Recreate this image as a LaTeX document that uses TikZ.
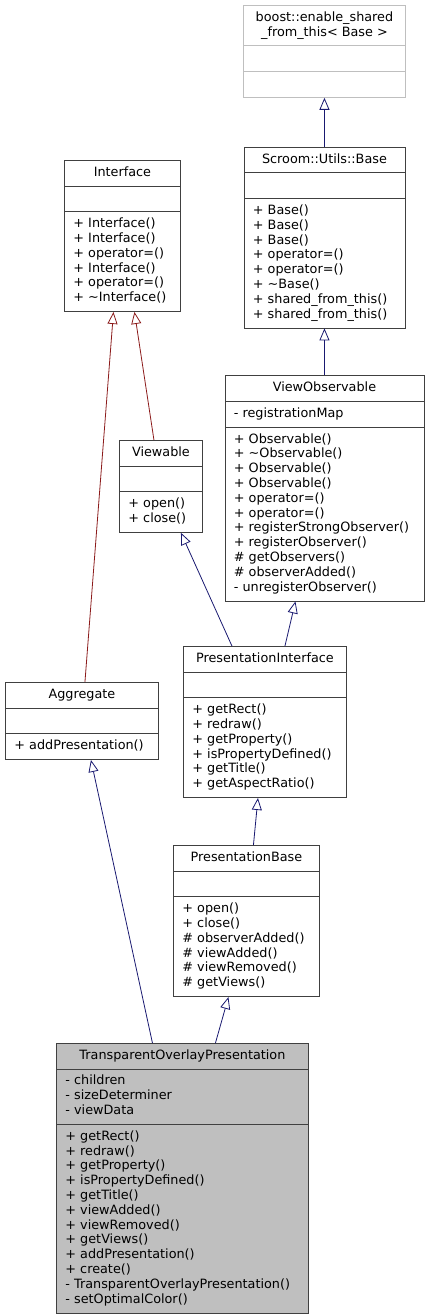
\documentclass[tikz,border=0pt]{standalone}
\usepackage{fontspec}
\setmainfont{DejaVu Sans}
\usetikzlibrary{arrows.meta,positioning,shapes.multipart}
\definecolor{doxBlue}{HTML}{191970}
\definecolor{doxRed}{HTML}{8B1A1A}
\definecolor{doxGrey}{HTML}{BFBFBF}
\definecolor{doxLine}{HTML}{404040}

\begin{document}
\begin{tikzpicture}[x=1pt,y=-1pt,
  font=\fontsize{12.8}{14.8}\selectfont,
  cls/.style={rectangle split,rectangle split parts=3,draw=doxLine,line width=0.9pt,
              fill=white,anchor=north west,align=left,inner xsep=9pt,inner ysep=5pt,
              rectangle split part align={center,left,left}},
  pubinh/.style={draw=doxBlue,line width=0.8pt,-{Triangle[open,length=12pt,width=10pt]}},
  privinh/.style={pubinh,draw=doxRed}]
  \useasboundingbox (0,0) rectangle (429,1316);

  % external base at the top
  \node[cls,draw=doxGrey,align=center,minimum width=162pt] (boost) at (243,5) {%
    \strut boost::enable\_shared\\\_from\_this< Base >\strut
    \nodepart{second}\strut
    \nodepart{third}\strut};
  \node[cls,minimum width=161pt,below=49pt of boost] (scroom) {%
    \strut Scroom::Utils::Base
    \nodepart{second}\strut
    \nodepart{third}\strut + Base()\\+ Base()\\+ Base()\\+ operator=()\\+ operator=()\\
    + \textasciitilde Base()\\+ shared\_from\_this()\\+ shared\_from\_this()\strut};
  \node[cls,minimum width=199pt,below=47pt of scroom] (vobs) {%
    \strut ViewObservable
    \nodepart{second}\strut - registrationMap
    \nodepart{third}\strut + Observable()\\+ \textasciitilde Observable()\\+ Observable()\\
    + Observable()\\+ operator=()\\+ operator=()\\+ registerStrongObserver()\\
    + registerObserver()\\\# getObservers()\\\# observerAdded()\\
    - unregisterObserver()\strut};

  % left column
  \node[cls,minimum width=116pt] (iface) at (64,160) {%
    \strut Interface
    \nodepart{second}\strut
    \nodepart{third}\strut + Interface()\\+ Interface()\\+ operator=()\\+ Interface()\\
    + operator=()\\+ \textasciitilde Interface()\strut};
  \node[cls,minimum width=83pt] (view) at (119,440) {%
    \strut Viewable
    \nodepart{second}\strut
    \nodepart{third}\strut + open()\\+ close()\strut};
  \node[cls,minimum width=153pt] (agg) at (5,682) {%
    \strut Aggregate
    \nodepart{second}\strut
    \nodepart{third}\strut + addPresentation()\strut};

  % presentation chain
  \node[cls,minimum width=163pt] (pi) at (183,646) {%
    \strut PresentationInterface
    \nodepart{second}\strut
    \nodepart{third}\strut + getRect()\\+ redraw()\\+ getProperty()\\
    + isPropertyDefined()\\+ getTitle()\\+ getAspectRatio()\strut};
  \node[cls,minimum width=146pt] (pb) at (173,845) {%
    \strut PresentationBase
    \nodepart{second}\strut
    \nodepart{third}\strut + open()\\+ close()\\\# observerAdded()\\\# viewAdded()\\
    \# viewRemoved()\\\# getViews()\strut};
  \node[cls,fill=doxGrey,minimum width=252pt] (top) at (56,1043) {%
    \strut TransparentOverlayPresentation
    \nodepart{second}\strut - children\\- sizeDeterminer\\- viewData\strut
    \nodepart{third}\strut + getRect()\\+ redraw()\\+ getProperty()\\
    + isPropertyDefined()\\+ getTitle()\\+ viewAdded()\\+ viewRemoved()\\
    + getViews()\\+ addPresentation()\\+ create()\\
    - TransparentOverlayPresentation()\\- setOptimalColor()\strut};

  % inheritance
  \draw[pubinh] (scroom.north) -- (boost.south);
  \draw[pubinh] (vobs.north) -- (scroom.south);
  \draw[privinh] ([xshift=3pt]agg.north) -- ([xshift=-9pt]iface.south);
  \draw[privinh] ([xshift=-7pt]view.north) -- ([xshift=12pt]iface.south);
  \draw[pubinh] ([xshift=-33pt]pi.north) -- ([xshift=20pt]view.south);
  \draw[pubinh] ([xshift=20pt]pi.north) -- ([xshift=-29pt]vobs.south);
  \draw[pubinh] ([xshift=7pt]pb.north) -- ([xshift=-7pt]pi.south);
  \draw[pubinh] ([xshift=-30pt]top.north) -- ([xshift=9pt]agg.south);
  \draw[pubinh] ([xshift=33pt]top.north) -- ([xshift=-18pt]pb.south);
\end{tikzpicture}
\end{document}
